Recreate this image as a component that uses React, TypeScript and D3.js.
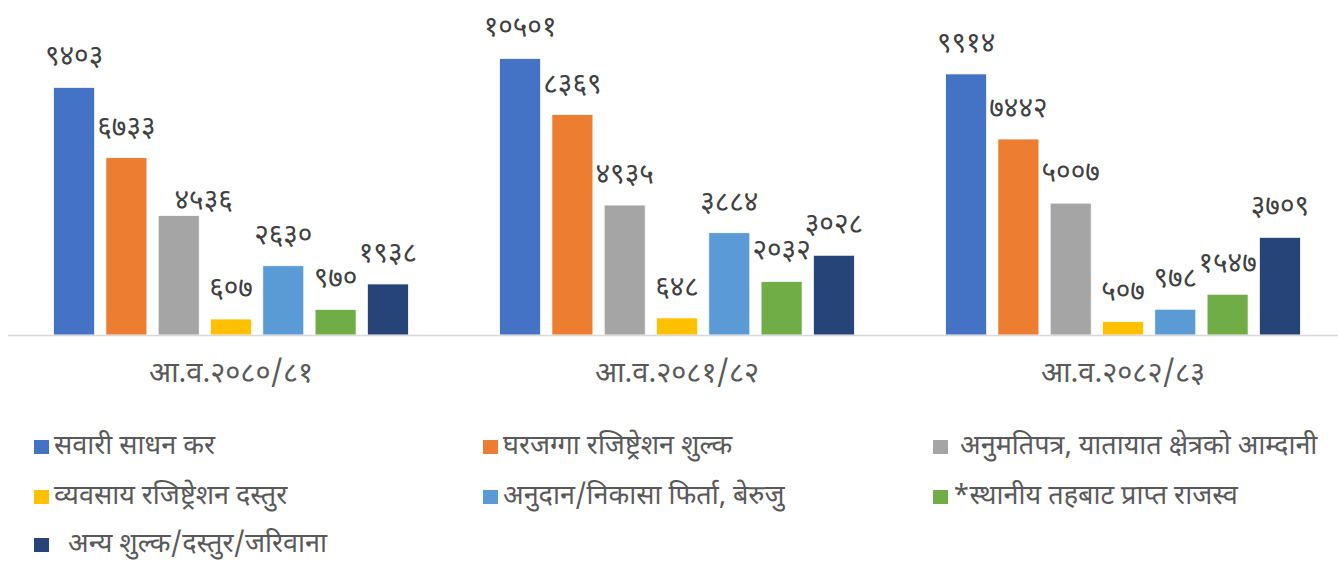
import React from "react";
import * as d3 from "d3";

const years = ["आ.व.२०८०/८१", "आ.व.२०८१/८२", "आ.व.२०८२/८३"];

const seriesNames = [
  "सवारी साधन कर",
  "घरजग्गा रजिष्ट्रेशन शुल्क",
  " अनुमतिपत्र, यातायात क्षेत्रको आम्दानी",
  "व्यवसाय रजिष्ट्रेशन दस्तुर",
  "अनुदान/निकासा फिर्ता, बेरुजु",
  "*स्थानीय तहबाट प्राप्त राजस्व",
  "  अन्य शुल्क/दस्तुर/जरिवाना"
];

const seriesColors = ["#4472C4", "#ED7D31", "#A5A5A5", "#FFC000", "#5B9BD5", "#70AD47", "#264478"];

// one array per series, values per year
const vehicleTax = [9403, 10501, 9914];
const landRegistration = [6733, 8369, 7442];
const permitIncome = [4536, 4935, 5007];
const businessRegistration = [607, 648, 507];
const grantRefund = [2630, 3884, 978];
const localLevelRevenue = [970, 2032, 1547];
const otherFees = [1938, 3028, 3709];

const seriesValues = [
  vehicleTax,
  landRegistration,
  permitIncome,
  businessRegistration,
  grantRefund,
  localLevelRevenue,
  otherFees
];

// hand-moved data label in the original (year index - series index)
const labelNudge: Record<string, [number, number]> = { "0-2": [25, 15] };

const width = 1338;
const height = 561;
const plotLeft = 8;
const plotRight = 1346;
const plotTop = 19;
const plotBottom = 335;

const devDigits = "०१२३४५६७८९";
const toNepali = (n: number) =>
  String(n).replace(/[0-9]/g, d => devDigits[+d]);

const fontFamily = "'Noto Sans Devanagari', 'Lohit Devanagari', Mangal, Kalimati, sans-serif";

export default function App() {
  const x0 = d3.scaleBand<string>().domain(years).range([plotLeft, plotRight]).padding(0);
  const x1 = d3
    .scaleBand<number>()
    .domain(d3.range(seriesNames.length))
    .range([0, x0.bandwidth()])
    .paddingInner(0.216)
    .paddingOuter(0.872);
  const y = d3.scaleLinear().domain([0, 12000]).range([plotBottom, plotTop]);

  const legendCols = [34, 483, 933];
  const legendRows = [447, 497, 545];

  return (
    <svg
      width={width}
      height={height}
      style={{ position: "absolute", left: 0, top: 0, background: "#fff", fontFamily }}
    >
      {years.map((yr, gi) => (
        <g key={yr} transform={`translate(${x0(yr)},0)`}>
          {seriesValues.map((vals, si) => {
            const v = vals[gi];
            const bx = x1(si)!;
            const nudge = labelNudge[`${gi}-${si}`] || [0, 0];
            return (
              <g key={si}>
                <rect
                  x={bx}
                  y={y(v)}
                  width={x1.bandwidth()}
                  height={y(0) - y(v)}
                  fill={seriesColors[si]}
                  stroke="#fff"
                  strokeWidth={0.75}
                />
                <text
                  x={bx + x1.bandwidth() / 2 + nudge[0]}
                  y={y(v) - 29 + nudge[1]}
                  textAnchor="middle"
                  dominantBaseline="central"
                  fontSize={28}
                  fill="#404040"
                >
                  {toNepali(v)}
                </text>
              </g>
            );
          })}
          <text
            x={x0.bandwidth() / 2}
            y={375}
            textAnchor="middle"
            dominantBaseline="central"
            fontSize={29}
            fill="#595959"
          >
            {yr}
          </text>
        </g>
      ))}
      <line x1={plotLeft} x2={width} y1={plotBottom + 0.5} y2={plotBottom + 0.5} stroke="#d9d9d9" strokeWidth={1.5} />
      {seriesNames.map((name, i) => {
        const lx = legendCols[i % 3];
        const ly = legendRows[Math.floor(i / 3)];
        return (
          <g key={name} transform={`translate(${lx},${ly})`}>
            <rect x={0} y={-7} width={15} height={14} fill={seriesColors[i]} />
            <text x={20} y={0} dominantBaseline="central" fontSize={27} fill="#595959" style={{ whiteSpace: "pre" }}>
              {name}
            </text>
          </g>
        );
      })}
    </svg>
  );
}
